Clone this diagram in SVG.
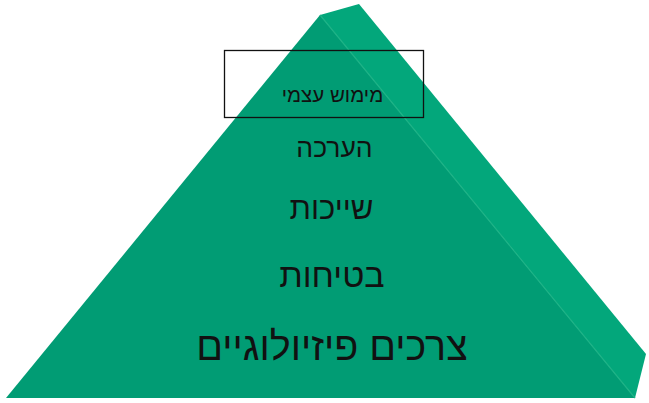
<svg xmlns="http://www.w3.org/2000/svg" width="649" height="403" viewBox="0 0 649 403">
<style>
.lbl{font-family:"Liberation Sans","DejaVu Sans",sans-serif;fill:#111;text-anchor:middle;direction:rtl}
</style>
<rect width="649" height="403" fill="#ffffff"/>
<g id="pyramid">
<polygon points="320,15 359,4 646,354 635,398" fill="#03A77B"/>
<polygon points="320,15 6,398 635,398" fill="#019C74"/>
<line x1="320" y1="15" x2="635" y2="398" stroke="#1DB286" stroke-width="1.2"/>
</g>
<g id="level5">
<rect x="224.5" y="50.5" width="199" height="67" fill="none" stroke="#111" stroke-width="1.3"/>
<text class="lbl" x="332.5" y="102" font-size="20.5">מימוש עצמי</text>
</g>
<g id="level4"><text class="lbl" x="334.5" y="157" font-size="26.5">הערכה</text></g>
<g id="level3"><text class="lbl" x="331.5" y="219" font-size="31">שייכות</text></g>
<g id="level2"><text class="lbl" x="332" y="287" font-size="34">בטיחות</text></g>
<g id="level1"><text class="lbl" x="332" y="360" font-size="39.5">צרכים פיזיולוגיים</text></g>
<g id="connectors"/>
</svg>
